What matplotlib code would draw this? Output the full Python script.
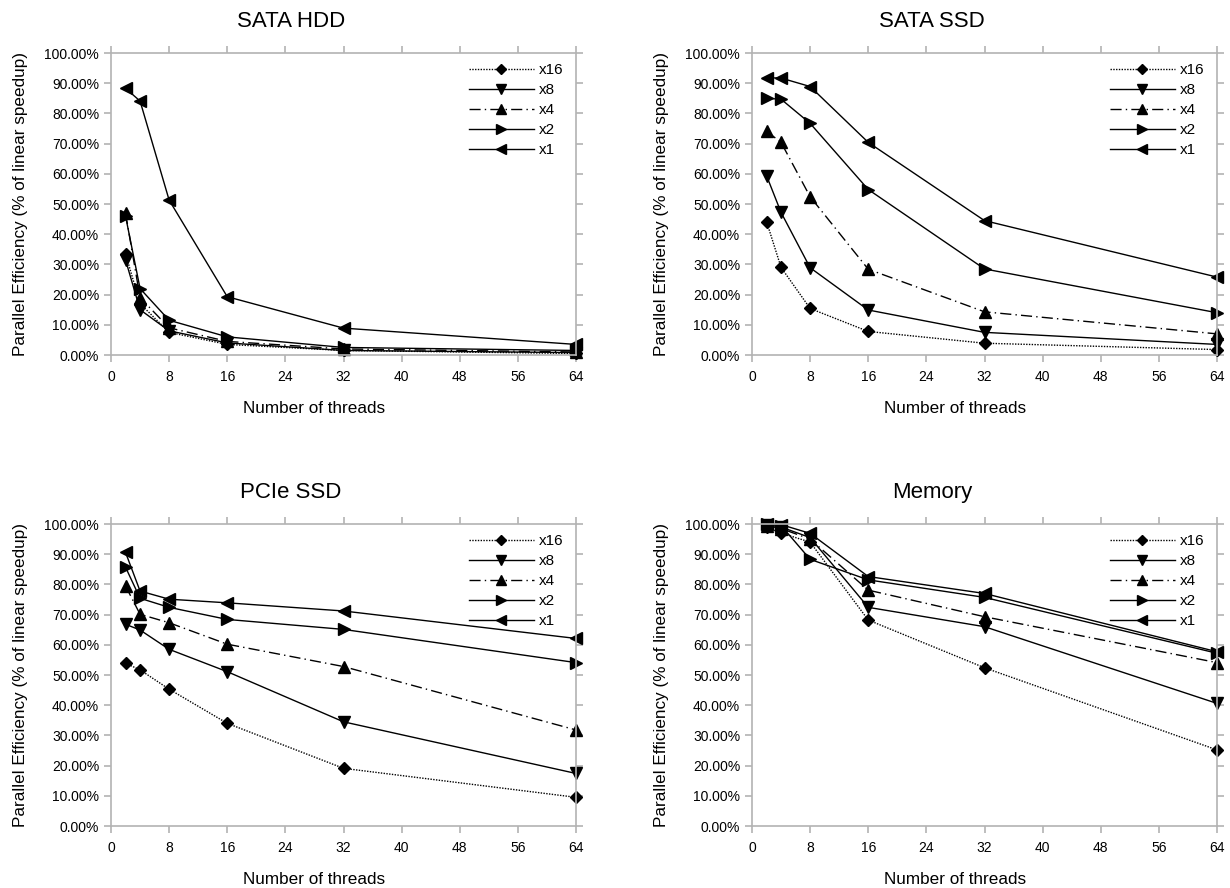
import matplotlib
matplotlib.use("Agg")
import matplotlib.pyplot as plt
from matplotlib.ticker import FuncFormatter

plt.rcParams["font.family"] = ["Liberation Sans", "DejaVu Sans"]

threads = [2, 4, 8, 16, 32, 64]
series_labels = ["x16", "x8", "x4", "x2", "x1"]

# efficiency in % per panel, order x16, x8, x4, x2, x1
sata_hdd = [
    [33.5, 17.0, 7.5, 3.5, 1.5, 0.5],
    [31.5, 15.0, 8.0, 4.0, 1.5, 0.8],
    [47.0, 19.0, 9.0, 4.5, 2.0, 1.0],
    [46.0, 22.0, 11.5, 6.0, 2.5, 1.5],
    [88.3, 84.1, 51.3, 19.3, 8.9, 3.5],
]
sata_ssd = [
    [44.2, 29.0, 15.4, 7.8, 3.9, 1.8],
    [59.4, 47.2, 28.9, 14.9, 7.5, 3.5],
    [74.1, 70.4, 52.4, 28.4, 14.3, 7.0],
    [85.0, 84.7, 76.7, 54.8, 28.5, 14.0],
    [91.8, 91.7, 88.9, 70.4, 44.5, 25.8],
]
pcie_ssd = [
    [53.9, 51.7, 45.3, 34.0, 19.1, 9.5],
    [66.8, 64.9, 58.5, 51.1, 34.5, 17.4],
    [79.5, 70.1, 67.3, 60.2, 52.8, 31.8],
    [85.7, 75.4, 72.4, 68.4, 65.1, 54.1],
    [90.6, 77.8, 75.1, 73.9, 71.2, 62.1],
]
memory = [
    [99.0, 97.0, 94.0, 68.2, 52.4, 25.2],
    [99.8, 99.0, 95.5, 72.4, 66.0, 40.6],
    [99.5, 98.5, 95.0, 78.1, 69.3, 54.1],
    [100.0, 99.5, 88.3, 81.5, 75.7, 57.2],
    [100.0, 99.8, 96.9, 82.6, 77.0, 57.7],
]

panels = [
    ("SATA HDD", sata_hdd),
    ("SATA SSD", sata_ssd),
    ("PCIe SSD", pcie_ssd),
    ("Memory", memory),
]

markers = ["D", "v", "^", ">", "<"]
msizes = [6, 9, 9, 9, 9]
styles = [(0, (1, 1)), "-", (0, (8, 3, 1, 3)), "-", "-"]

grey = "#b3b3b3"
positions = [
    (111, 53), (752, 53),
    (111, 524), (752, 524),
]

fig = plt.figure(figsize=(12.3, 8.88), dpi=100)
W, H = 1230, 888
aw, ah = 465, 302

for (title, data), (px, py) in zip(panels, positions):
    ax = fig.add_axes([px / W, 1 - (py + ah) / H, aw / W, ah / H])
    for vals, lab, m, ms, ls in zip(data, series_labels, markers, msizes, styles):
        ax.plot(threads, [v / 100 for v in vals], color="black",
                linestyle=ls, linewidth=1.0, marker=m, markersize=ms,
                label=lab, clip_on=False)
    ax.set_xlim(0, 64)
    ax.set_ylim(0, 1)
    ax.set_xticks(range(0, 65, 8))
    ax.set_yticks([i / 10 for i in range(11)])
    ax.yaxis.set_major_formatter(FuncFormatter(lambda v, p: f"{v * 100:.2f}%"))
    for s in ax.spines.values():
        s.set_color(grey)
        s.set_linewidth(1.2)
    ax.tick_params(axis="both", which="both", direction="out", color=grey,
                   length=5, width=1.2, labelsize=10,
                   top=True, right=True)
    ax.tick_params(axis="x", pad=6)
    ax.set_title(title, fontsize=16, pad=19, x=0.387)
    ax.set_xlabel("Number of threads", fontsize=12.3, labelpad=12)
    ax.xaxis.label.set_x(0.437)
    ax.set_ylabel("Parallel Efficiency (% of linear speedup)", fontsize=12.3,
                  labelpad=12)
    ax.legend(loc="upper right", frameon=False, fontsize=11,
              handlelength=4.25, handletextpad=0.33, labelspacing=0.39,
              markerscale=0.85, borderaxespad=0.4,
              bbox_to_anchor=(0.999, 1.007))

fig.savefig("out.png", dpi=100)
